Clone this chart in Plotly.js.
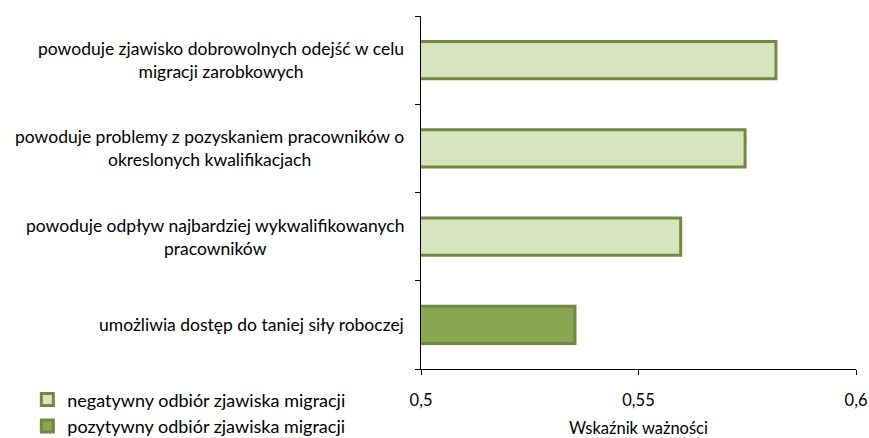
<!DOCTYPE html>
<html>
<head>
<meta charset="utf-8">
<script src="https://cdn.plot.ly/plotly-3.0.1.min.js"></script>
<style>
  html, body { margin: 0; padding: 0; background: #fff; }
  #chart { width: 869px; height: 438px; }
</style>
</head>
<body>
<div id="chart"></div>
<script>
// categories, top to bottom
const categories = [
    'powoduje zjawisko dobrowolnych odejść w celu<br>migracji zarobkowych',
    'powoduje problemy z pozyskaniem pracowników o<br>okreslonych kwalifikacjach',
    'powoduje odpływ najbardziej wykwalifikowanych<br>pracowników',
    'umożliwia dostęp do taniej siły roboczej'
];

const negativeCats = categories.slice(0, 3);
const negativeValues = [0.5816, 0.5745, 0.5597];

const positiveCats = categories.slice(3);
const positiveValues = [0.5354];

const xTicks = [0.5, 0.55, 0.6];

const fontFamily = 'Lato, "Open Sans", sans-serif';
const outline = '#71893F';

const negTrace = {
    type: 'bar',
    orientation: 'h',
    name: 'negatywny odbiór zjawiska migracji',
    y: negativeCats,
    x: negativeValues,
    marker: {color: '#D7E4BD', line: {color: outline, width: 3}},
    hoverinfo: 'x'
};

const posTrace = {
    type: 'bar',
    orientation: 'h',
    name: 'pozytywny odbiór zjawiska migracji',
    y: positiveCats,
    x: positiveValues,
    marker: {color: '#8AA753', line: {color: outline, width: 3}},
    hoverinfo: 'x'
};

// category labels drawn centred, right edge next to the axis
const labelNotes = categories.map(c => ({
    xref: 'paper',
    yref: 'y',
    x: -0.035,
    y: c,
    xanchor: 'right',
    yanchor: 'middle',
    align: 'center',
    text: c,
    showarrow: false,
    font: {family: fontFamily, size: 17.5, color: '#000'}
}));

const layout = {
    width: 869,
    height: 438,
    margin: {l: 421, r: 13, t: 16, b: 69, autoexpand: false},
    paper_bgcolor: '#fff',
    plot_bgcolor: '#fff',
    separators: ', ',
    font: {family: fontFamily, size: 16, color: '#000'},
    barmode: 'overlay',
    bargap: 0.58,
    showlegend: true,
    legend: {
        x: -0.905,
        y: -0.035,
        xanchor: 'left',
        yanchor: 'top',
        font: {family: fontFamily, size: 18, color: '#000'},
        traceorder: 'normal',
        bgcolor: 'rgba(0,0,0,0)'
    },
    xaxis: {
        range: [0.5, 0.6],
        tickvals: xTicks,
        showgrid: false,
        zeroline: false,
        showline: true,
        linecolor: '#000',
        linewidth: 1,
        ticks: 'outside',
        ticklen: 5,
        tickcolor: '#000',
        ticklabelstandoff: 11,
        tickfont: {size: 16.5},
        title: {text: 'Wskaźnik ważności', font: {size: 16.5}, standoff: 18}
    },
    yaxis: {
        type: 'category',
        categoryorder: 'array',
        categoryarray: categories.slice().reverse(),
        showgrid: false,
        zeroline: false,
        showline: true,
        linecolor: '#000',
        linewidth: 1,
        ticks: 'outside',
        tickson: 'boundaries',
        ticklen: 5,
        tickcolor: '#000',
        showticklabels: false
    },
    annotations: labelNotes
};

Plotly.newPlot('chart', [negTrace, posTrace], layout, {displayModeBar: false, staticPlot: true});
</script>
</body>
</html>
